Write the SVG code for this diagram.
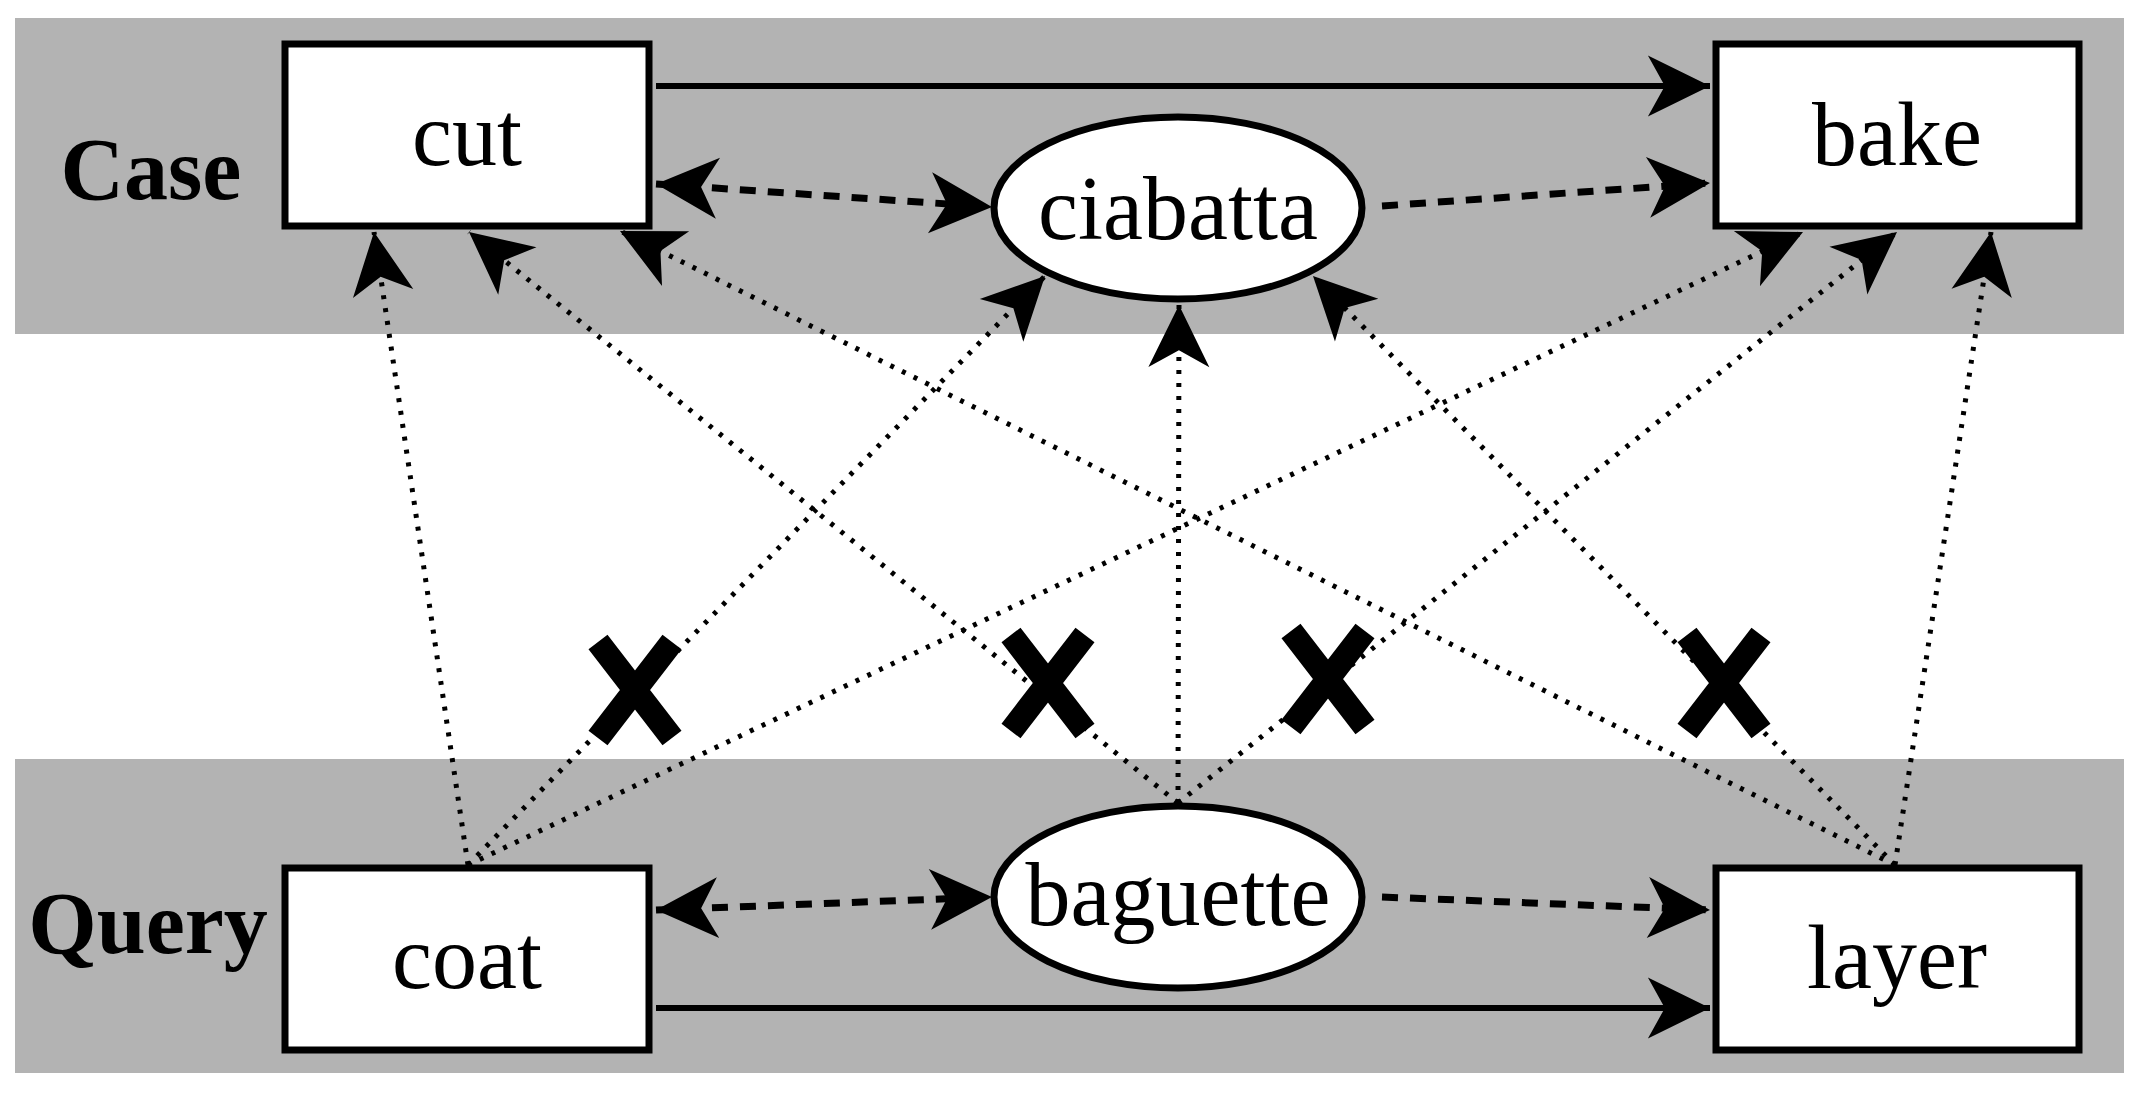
<svg xmlns="http://www.w3.org/2000/svg" width="2142" height="1104" viewBox="0 0 2142 1104">
<style>
.band{fill:#b3b3b3}
.box{fill:#fff;stroke:#000;stroke-width:7}
.lbl{font-family:"Liberation Serif",serif;font-size:90px;text-anchor:middle;fill:#000}
.side{font-family:"Liberation Serif",serif;font-size:88px;font-weight:bold;text-anchor:middle;fill:#000}
.solid{stroke:#000;stroke-width:6;fill:none;marker-end:url(#ah)}
.dash{stroke:#000;stroke-width:7;fill:none;stroke-dasharray:16 12;marker-end:url(#ah)}
.dot{stroke:#000;stroke-width:5;fill:none;stroke-dasharray:4 9;marker-end:url(#ah)}
.x{stroke:#000;stroke-width:24;fill:none}
</style>
<defs>
<marker id="ah" markerUnits="userSpaceOnUse" markerWidth="70" markerHeight="70" viewBox="-60 -30 62 60" refX="0" refY="0" orient="auto-start-reverse">
<path d="M0,0 L-55,-27 L-40,0 L-55,27 Z" fill="#000"/>
</marker>
</defs>
<rect class="band" x="15" y="18" width="2109" height="316"/>
<rect class="band" x="15" y="759" width="2109" height="314"/>
<text class="side" x="151" y="199">Case</text>
<text class="side" x="148" y="953">Query</text>
<g id="connectors">
<line class="solid" x1="656" y1="86" x2="1710" y2="86"/>
<line class="solid" x1="656" y1="1008" x2="1710" y2="1008"/>
<line class="dash" x1="656" y1="184" x2="992" y2="207" style="marker-start:url(#ah)"/>
<line class="dash" x1="656" y1="910" x2="992" y2="897" style="marker-start:url(#ah)"/>
<line class="dash" x1="1382" y1="206" x2="1710" y2="183"/>
<line class="dash" x1="1382" y1="897" x2="1710" y2="910"/>
<line class="dot" x1="468" y1="865" x2="374" y2="232"/>
<line class="dot" x1="468" y1="865" x2="1045" y2="276"/>
<line class="dot" x1="468" y1="865" x2="1803" y2="232"/>
<line class="dot" x1="1178" y1="803" x2="469" y2="232"/>
<line class="dot" x1="1178" y1="803" x2="1179" y2="305"/>
<line class="dot" x1="1178" y1="803" x2="1897" y2="232"/>
<line class="dot" x1="1895" y1="865" x2="620" y2="231"/>
<line class="dot" x1="1895" y1="865" x2="1313" y2="276"/>
<line class="dot" x1="1895" y1="865" x2="1991" y2="232"/>
</g>
<g id="crosses">
<path class="x" d="M598,642 L672,738 M672,642 L598,738"/>
<path class="x" d="M1011,635 L1085,731 M1085,635 L1011,731"/>
<path class="x" d="M1291,631 L1365,727 M1365,631 L1291,727"/>
<path class="x" d="M1687,635 L1761,731 M1761,635 L1687,731"/>
</g>
<g id="cut"><rect class="box" x="285" y="44" width="364" height="182"/><text class="lbl" x="467" y="165">cut</text></g>
<g id="bake"><rect class="box" x="1716" y="44" width="363" height="182"/><text class="lbl" x="1897" y="165">bake</text></g>
<g id="coat"><rect class="box" x="285" y="868" width="364" height="182"/><text class="lbl" x="467" y="988">coat</text></g>
<g id="layer"><rect class="box" x="1716" y="868" width="363" height="182"/><text class="lbl" x="1897" y="988">layer</text></g>
<g id="ciabatta"><ellipse class="box" cx="1178" cy="208" rx="184" ry="91"/><text class="lbl" x="1178" y="239">ciabatta</text></g>
<g id="baguette"><ellipse class="box" cx="1178" cy="897" rx="184" ry="91"/><text class="lbl" x="1178" y="925">baguette</text></g>
</svg>
